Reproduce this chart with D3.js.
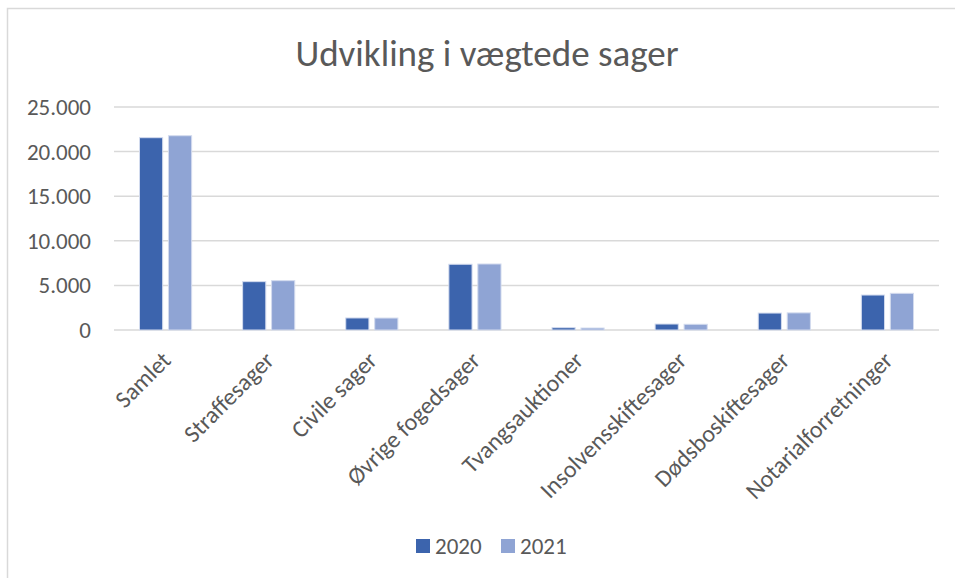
<!DOCTYPE html>
<html>
<head>
<meta charset="utf-8">
<script src="https://cdn.jsdelivr.net/npm/d3@7"></script>
<style>
  body { margin: 0; background: #fff; }
  text { font-family: Carlito, Calibri, Lato, sans-serif; fill: #595959; }
</style>
</head>
<body>
<div id="chart"></div>
<script>
// chart data
const categories = ["Samlet", "Straffesager", "Civile sager", "Øvrige fogedsager",
  "Tvangsauktioner", "Insolvensskiftesager", "Dødsboskiftesager", "Notarialforretninger"];
const series = ["2020", "2021"];
const values2020 = [21560, 5420, 1350, 7370, 260, 670, 1900, 3920];
const values2021 = [21780, 5530, 1340, 7400, 220, 640, 1920, 4110];
const yTicks = [0, 5000, 10000, 15000, 20000, 25000];
const colors = ["#3c64ad", "#8fa4d4"];

const width = 955, height = 578;
const plot = { left: 114, right: 939, top: 107, bottom: 330 };

const svg = d3.select("#chart").append("svg")
  .attr("width", width).attr("height", height);

// outer frame (only left and top edges show in the picture)
svg.append("rect")
  .attr("x", 7.5).attr("y", 8.5)
  .attr("width", 960).attr("height", 580)
  .attr("fill", "none").attr("stroke", "#d9d9d9").attr("stroke-width", 1.5);

svg.append("text")
  .attr("x", 487).attr("y", 66)
  .attr("text-anchor", "middle")
  .attr("font-size", 37)
  .text("Udvikling i vægtede sager");

const y = d3.scaleLinear().domain([0, 25000]).range([plot.bottom, plot.top]);
const x0 = d3.scaleBand().domain(categories).range([plot.left, plot.right]);
const x1 = d3.scaleBand().domain(series).range([0, x0.bandwidth()])
  .paddingInner(0.2).paddingOuter(0.88);

const fmt = v => d3.format(",")(v).replace(/,/g, ".");

// gridlines
svg.append("g").selectAll("line").data(yTicks).join("line")
  .attr("x1", plot.left).attr("x2", plot.right)
  .attr("y1", d => y(d)).attr("y2", d => y(d))
  .attr("stroke", "#d9d9d9").attr("stroke-width", 1.5);

// y labels
svg.append("g").selectAll("text").data(yTicks).join("text")
  .attr("x", 91).attr("y", d => y(d))
  .attr("dy", "0.35em")
  .attr("text-anchor", "end")
  .attr("font-size", 23)
  .text(fmt);

// bars
const data = categories.map((c, i) => ({ cat: c, vals: [values2020[i], values2021[i]] }));
const groups = svg.append("g").selectAll("g").data(data).join("g")
  .attr("transform", d => "translate(" + x0(d.cat) + ",0)");

groups.selectAll("rect")
  .data(d => d.vals.map((v, j) => ({ key: series[j], v: v, j: j })))
  .join("rect")
  .attr("x", d => x1(d.key))
  .attr("y", d => y(d.v))
  .attr("width", x1.bandwidth())
  .attr("height", d => y(0) - y(d.v))
  .attr("fill", d => colors[d.j])
  .attr("stroke", "#d3dbee").attr("stroke-width", 1);

// x labels rotated
svg.append("g").selectAll("text").data(categories).join("text")
  .attr("transform", d => "translate(" + (x0(d) + x0.bandwidth() / 2 - 6) + "," + 349 + ") rotate(-45)")
  .attr("text-anchor", "end")
  .attr("dy", "0.75em")
  .attr("font-size", 24)
  .text(d => d);

// legend
const legend = svg.append("g");
const legendX = [416, 501];
series.forEach((s, j) => {
  legend.append("rect")
    .attr("x", legendX[j]).attr("y", 539)
    .attr("width", 14).attr("height", 14)
    .attr("fill", colors[j]);
  legend.append("text")
    .attr("x", legendX[j] + 19).attr("y", 546)
    .attr("dy", "0.35em")
    .attr("font-size", 23)
    .text(s);
});
</script>
</body>
</html>
